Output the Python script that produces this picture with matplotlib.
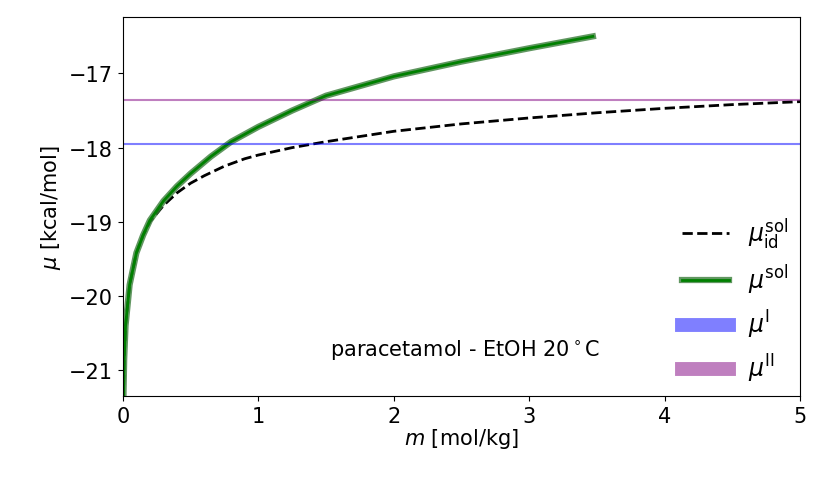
import matplotlib
matplotlib.use("Agg")
import matplotlib.pyplot as plt
import matplotlib.patheffects as pe

# ideal solution chemical potential
m_id = [0.003, 0.005, 0.01, 0.02, 0.05, 0.1, 0.15, 0.2, 0.3, 0.4, 0.5, 0.6, 0.75, 0.9, 1.0, 1.25, 1.5, 2.0, 2.5, 3.0, 3.5, 4.0, 4.5, 5.0]
mu_id = [-21.6, -21.3, -20.85, -20.4, -19.85, -19.42, -19.18, -19.0, -18.78, -18.61, -18.48, -18.38, -18.25, -18.15, -18.1, -18.0, -17.92, -17.78, -17.68, -17.6, -17.53, -17.47, -17.42, -17.38]

# real solution chemical potential
m_sol = [0.003, 0.005, 0.01, 0.02, 0.05, 0.1, 0.15, 0.2, 0.3, 0.4, 0.5, 0.65, 0.8, 1.0, 1.25, 1.5, 2.0, 2.5, 3.0, 3.47]
mu_sol = [-21.6, -21.3, -20.85, -20.4, -19.85, -19.42, -19.18, -18.98, -18.72, -18.52, -18.35, -18.12, -17.92, -17.72, -17.5, -17.3, -17.04, -16.84, -16.66, -16.5]

mu_I = -17.95
mu_II = -17.36

fig, ax = plt.subplots(figsize=(8.3, 4.89), dpi=100)
ax.plot(m_id, mu_id, "k--", lw=2, label=r"$\mu^{\rm sol}_{\rm id}$")
ax.plot(m_sol, mu_sol, color="green", lw=2,
        path_effects=[pe.Stroke(linewidth=4.5, foreground="#3a7d3a", alpha=0.8), pe.Normal()],
        label=r"$\mu^{\rm sol}$")
ax.axhline(mu_I, color="blue", alpha=0.5, lw=1.5)
ax.axhline(mu_II, color="purple", alpha=0.5, lw=1.5)
ax.plot([], [], color="blue", alpha=0.5, lw=10, label=r"$\mu^{\rm I}$")
ax.plot([], [], color="purple", alpha=0.5, lw=10, label=r"$\mu^{\rm II}$")

ax.text(2.53, -20.8, r"paracetamol - EtOH 20$^\circ$C", fontsize=15, ha="center")
ax.set_xlim(0, 5)
ax.set_ylim(-21.35, -16.24)
ax.set_yticks([-21, -20, -19, -18, -17])
ax.set_yticklabels(["\u221221", "\u221220", "\u221219", "\u221218", "\u221217"])
ax.tick_params(labelsize=15)
ax.set_xlabel(r"$m$ [mol/kg]", fontsize=15, labelpad=0)
ax.set_ylabel(r"$\mu$ [kcal/mol]", fontsize=15)
ax.legend(loc="lower right", frameon=False, fontsize=17, handlelength=2.0,
          borderaxespad=0.1, labelspacing=0.5)
fig.subplots_adjust(left=0.148, right=0.964, top=0.963, bottom=0.188)
fig.savefig("out.png")
